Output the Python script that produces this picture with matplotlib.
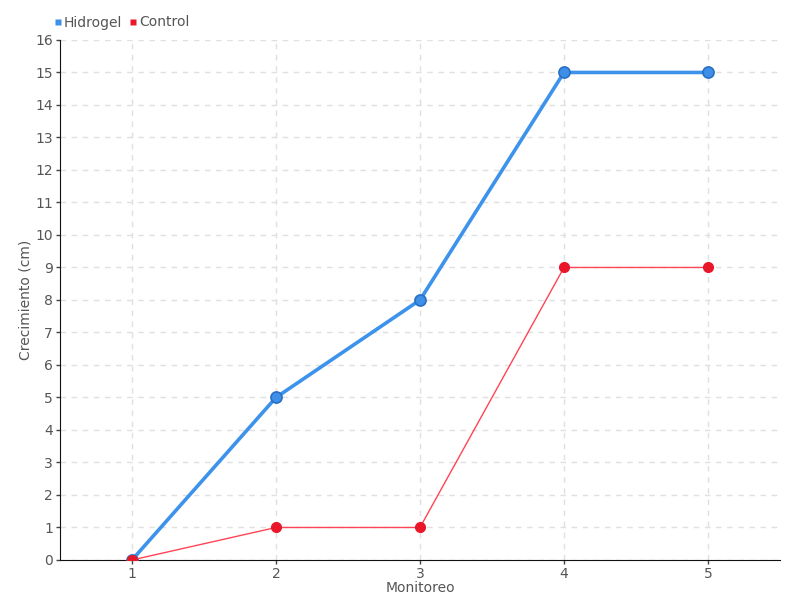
import matplotlib.pyplot as plt
from matplotlib.lines import Line2D

monitoreo = [1, 2, 3, 4, 5]
hidrogel = [0, 5, 8, 15, 15]
control = [0, 1, 1, 9, 9]

plt.rcParams['font.family'] = ['DejaVu Sans']

fig = plt.figure(figsize=(8, 6), dpi=100)
ax = fig.add_axes([0.075, 0.0667, 0.9, 0.8667])

ax.plot(monitoreo, hidrogel, color='#3d93ec', lw=2.6, marker='o', ms=8,
        markerfacecolor='#3d8fe8', markeredgecolor='#2a6fc4', markeredgewidth=1.2, zorder=3)
ax.plot(monitoreo, control, color='#ff4455', lw=1, marker='o', ms=7,
        markerfacecolor='#e8182a', markeredgecolor='#e8182a', zorder=4)

ax.set_xlim(0.5, 5.5)
ax.set_ylim(0, 16)
ax.set_xticks(monitoreo)
ax.set_yticks(range(0, 17))
ax.grid(True, color='#e0e0e0', linestyle=(0, (4, 4)), lw=1)
ax.set_axisbelow(True)
for s in ['top', 'right']:
    ax.spines[s].set_visible(False)
ax.spines['left'].set_color('#111111')
ax.spines['bottom'].set_color('#111111')
ax.tick_params(axis='both', labelcolor='#555555', labelsize=10, length=3, width=1,
               color='#444444', pad=2)

ax.set_xlabel('Monitoreo', color='#555555', fontsize=10, labelpad=0)
ax.set_ylabel('Crecimiento (cm)', color='#555555', fontsize=10, labelpad=2)

handles = [Line2D([], [], marker='s', color='none', markerfacecolor='#3d8fe8', markeredgecolor='none', ms=5),
           Line2D([], [], marker='s', color='none', markerfacecolor='#e8182a', markeredgecolor='none', ms=5)]
fig.legend(handles, ['Hidrogel', 'Control'], loc='upper left', bbox_to_anchor=(0.052, 0.995),
           ncol=2, frameon=False, handlelength=0.5, handletextpad=0.2, columnspacing=0.5,
           labelcolor='#555555', fontsize=10)

fig.savefig('out.png', dpi=100)
